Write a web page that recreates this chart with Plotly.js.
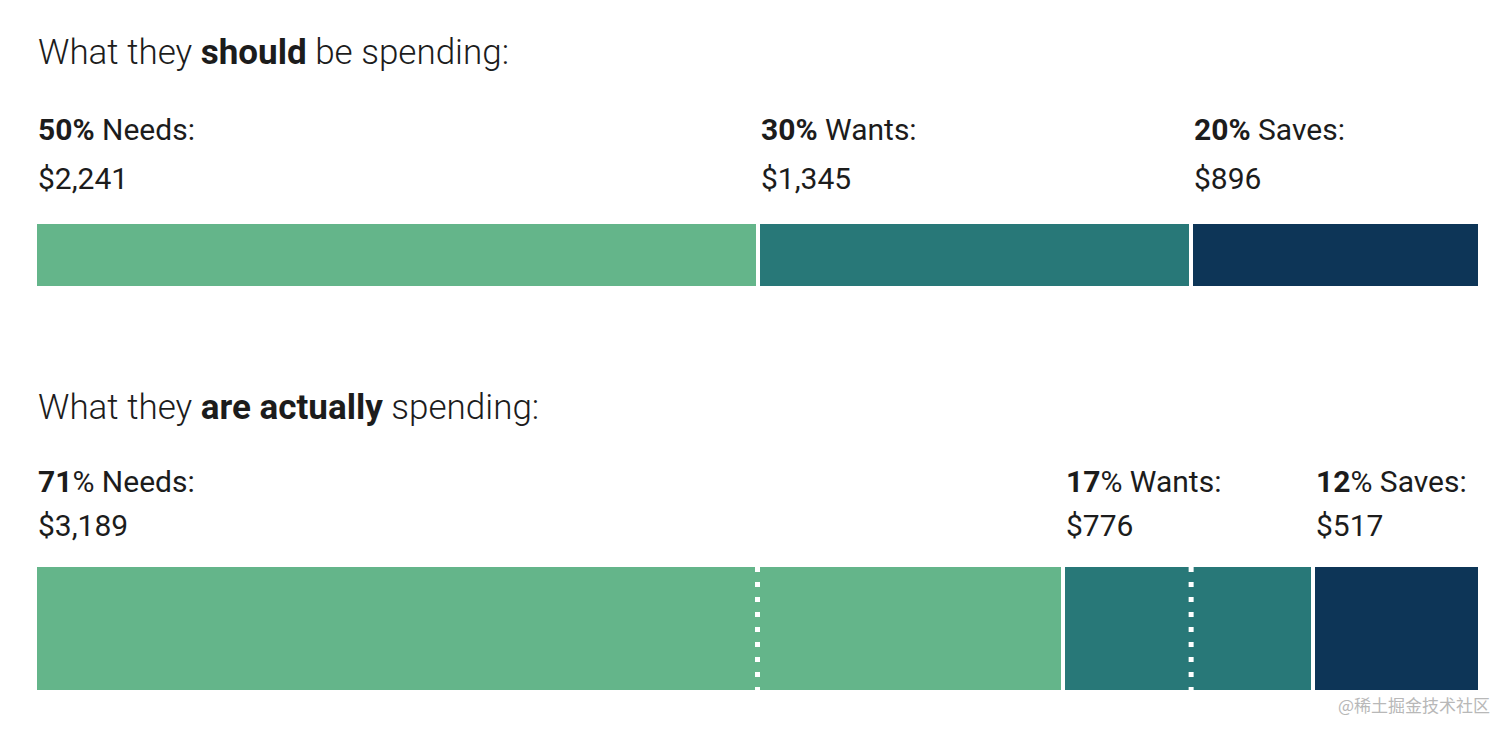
<!DOCTYPE html>
<html>
<head>
<meta charset="utf-8">
<script src="https://cdn.plot.ly/plotly-3.0.1.min.js"></script>
<style>html,body{margin:0;padding:0;background:#fff;}#chart{width:1512px;height:734px;}</style>
</head>
<body>
<div id="chart"></div>
<script>
// Data
const categories = ["Needs", "Wants", "Saves"];
const shouldPct = [50, 30, 20];
const shouldAmt = [2241, 1345, 896];
const actualPct = [71, 17, 12];
const actualAmt = [3189, 776, 517];
const colors = ["#64b58a", "#287878", "#0d3557"];
const titleTop = ["What they ", "should", " be spending:"];
const titleBottom = ["What they ", "are actually", " spending:"];

const total = shouldAmt.reduce((a, b) => a + b, 0);
const fmt = v => "$" + v.toLocaleString("en-US");

const traces = [];
categories.forEach((c, i) => {
  traces.push({
    type: "bar", orientation: "h", x: [shouldAmt[i]], y: ["should"],
    xaxis: "x", yaxis: "y", marker: {color: colors[i], line: {color: "#fff", width: 4}},
    hoverinfo: "skip", showlegend: false
  });
  traces.push({
    type: "bar", orientation: "h", x: [actualAmt[i]], y: ["actual"],
    xaxis: "x", yaxis: "y2", marker: {color: colors[i], line: {color: "#fff", width: 4}},
    hoverinfo: "skip", showlegend: false
  });
});

const H = 734;
const py = px => 1 - px / H;
const txtColor = "#1c1c1c";
const annotations = [];

function titleAnn(parts, yc) {
  annotations.push({
    xref: "paper", yref: "paper", x: 0, y: py(yc), xanchor: "left", yanchor: "middle",
    xshift: 1, showarrow: false,
    text: parts[0] + "<b>" + parts[1] + "</b>" + parts[2],
    font: {family: "Roboto", size: 35, color: txtColor, weight: 300}
  });
}
titleAnn(titleTop, 52);
titleAnn(titleBottom, 407);

function labelRow(pcts, amts, y1, y2, boldAll) {
  let cum = 0;
  pcts.forEach((p, i) => {
    annotations.push({
      xref: "x", yref: "paper", x: cum, y: py(y1), xanchor: "left", yanchor: "middle",
      xshift: 1, showarrow: false,
      text: "<b>" + p + (boldAll ? "%</b>" : "</b>%") + " " + categories[i] + ":",
      font: {family: "Roboto", size: 30, color: txtColor}
    });
    annotations.push({
      xref: "x", yref: "paper", x: cum, y: py(y2), xanchor: "left", yanchor: "middle",
      xshift: 1, showarrow: false,
      text: fmt(amts[i]),
      font: {family: "Roboto", size: 30, color: txtColor}
    });
    cum += amts[i];
  });
}
labelRow(shouldPct, shouldAmt, 129, 178, true);
labelRow(actualPct, actualAmt, 481, 525, false);

annotations.push({
  xref: "paper", yref: "paper", x: 1, y: py(704), xanchor: "right", yanchor: "middle",
  xshift: 12, showarrow: false, text: "@稀土掘金技术社区",
  font: {family: "Noto Sans CJK SC", size: 17, color: "#b8b8b8"}
});

// Dotted reference lines at the "should" boundaries, on the actual bar
const shapes = [];
let cumShould = 0;
for (let i = 0; i < shouldAmt.length - 1; i++) {
  cumShould += shouldAmt[i];
  shapes.push({
    type: "line", xref: "x", yref: "y2 domain", x0: cumShould, x1: cumShould, y0: 0, y1: 1,
    line: {color: "#ffffff", width: 5, dash: "5px,10px"}
  });
}

const layout = {
  width: 1512, height: 734,
  margin: {l: 35, r: 32, t: 0, b: 0},
  paper_bgcolor: "#fff", plot_bgcolor: "#fff",
  barmode: "stack", bargap: 0,
  xaxis: {range: [0, total], domain: [0, 1], visible: false, fixedrange: true},
  yaxis: {domain: [py(288), py(222)], visible: false, fixedrange: true},
  yaxis2: {domain: [py(692), py(565)], visible: false, fixedrange: true},
  annotations: annotations,
  shapes: shapes,
  showlegend: false
};

Plotly.newPlot("chart", traces, layout, {displayModeBar: false, staticPlot: true});
</script>
</body>
</html>
